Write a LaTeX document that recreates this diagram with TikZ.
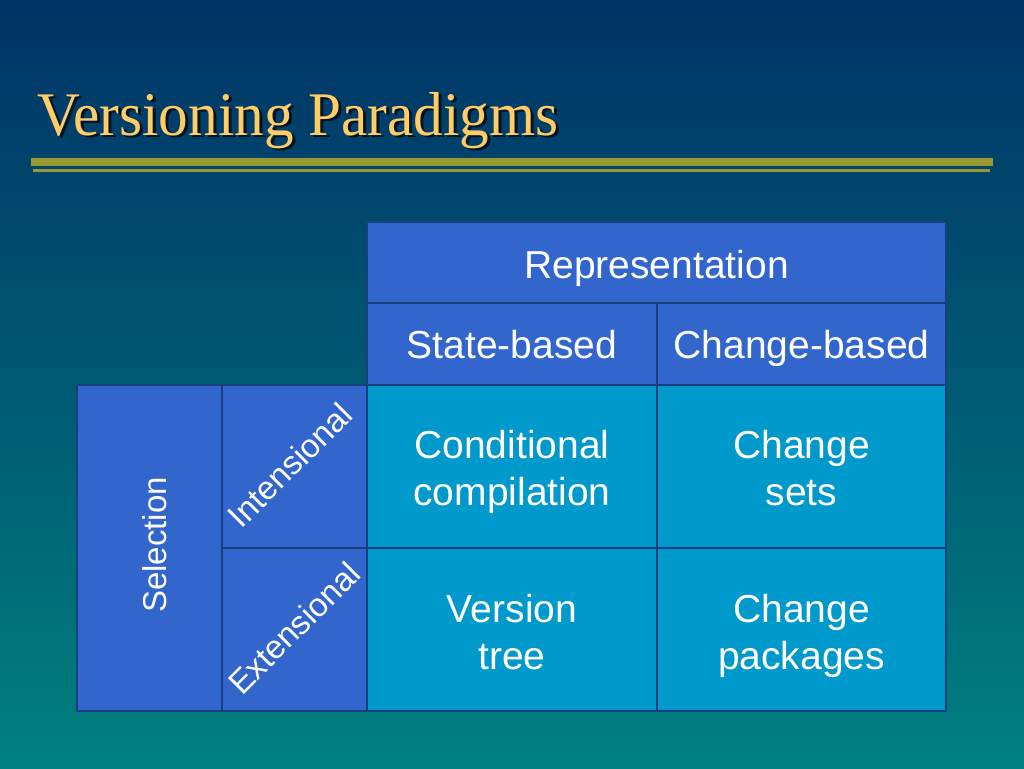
\documentclass[tikz,border=0pt]{standalone}
\usepackage{fontspec}
\setmainfont{Liberation Sans}
\newfontfamily\titlefont{Liberation Serif}
\definecolor{bgtop}{HTML}{003366}
\definecolor{bgbot}{HTML}{008080}
\definecolor{titlegold}{HTML}{FFCC66}
\definecolor{olive}{HTML}{999933}
\definecolor{hdrblue}{HTML}{3366CC}
\definecolor{bodyblue}{HTML}{0099CC}
\definecolor{gridline}{HTML}{1A3F7F}
\tikzset{
  cell/.style={draw=gridline, line width=1.5pt, inner sep=0pt, outer sep=0pt},
  hdrcell/.style={cell, fill=hdrblue},
  bodycell/.style={cell, fill=bodyblue},
  lbl/.style={text=white, font=\fontsize{39}{47}\selectfont, inner sep=0pt},
  sidelbl/.style={text=white, font=\fontsize{33}{40}\selectfont, inner sep=0pt},
  ttl/.style={font=\titlefont\fontsize{62}{70}\selectfont, inner sep=0pt, anchor=base west}
}
\begin{document}
\begin{tikzpicture}[x=1pt,y=-1pt]
\useasboundingbox (0,0) rectangle (1024,768);
\fill[top color=bgtop, bottom color=bgbot] (0,0) rectangle (1024,768);
% title
\node[ttl, text=black!75!bgtop, opacity=0.85] (titleshadow) at (40,137.5) {\scalebox{0.955}[1]{Versioning Paradigms}};
\node[ttl, text=titlegold] (title) at (37,135) {\scalebox{0.955}[1]{Versioning Paradigms}};
% rules
\fill[olive] (31,158) rectangle (993,166);
\fill[olive] (33,169) rectangle (990,172);
% header cells
\node[hdrcell, minimum width=579pt, minimum height=81pt] (rep) at (656.5,262.5) {};
\node[hdrcell, minimum width=290pt, minimum height=82pt] (state) at (512,344) {};
\node[hdrcell, minimum width=289pt, minimum height=82pt] (change) at (801.5,344) {};
\node[hdrcell, minimum width=145pt, minimum height=326pt] (sel) at (149.5,548) {};
\node[hdrcell, minimum width=145pt, minimum height=163pt] (int) at (294.5,466.5) {};
\node[hdrcell, minimum width=145pt, minimum height=163pt] (ext) at (294.5,629.5) {};
% body cells
\node[bodycell, minimum width=290pt, minimum height=163pt] (cc) at (512,466.5) {};
\node[bodycell, minimum width=289pt, minimum height=163pt] (cs) at (801.5,466.5) {};
\node[bodycell, minimum width=290pt, minimum height=163pt] (vt) at (512,629.5) {};
\node[bodycell, minimum width=289pt, minimum height=163pt] (cp) at (801.5,629.5) {};
% labels
\node[lbl, anchor=base] (repl) at (656.5,278) {Representation};
\node[lbl, anchor=base] (statel) at (512,358) {State-based};
\node[lbl, anchor=base] (changel) at (801.5,358) {Change-based};
\node[sidelbl, rotate=90] (sell) at (155,545) {Selection};
\node[sidelbl, rotate=45] (intl) at (290,465) {Intensional};
\node[sidelbl, rotate=45] (extl) at (294,628) {Extensional};
\node[lbl, anchor=base] (cc1) at (512,458) {Conditional};
\node[lbl, anchor=base] (cc2) at (512,505) {compilation};
\node[lbl, anchor=base] (cs1) at (801.5,458) {Change};
\node[lbl, anchor=base] (cs2) at (801.5,505) {sets};
\node[lbl, anchor=base] (vt1) at (512,622) {Version};
\node[lbl, anchor=base] (vt2) at (512,669) {tree};
\node[lbl, anchor=base] (cp1) at (801.5,622) {Change};
\node[lbl, anchor=base] (cp2) at (801.5,669) {packages};
\end{tikzpicture}
\end{document}
